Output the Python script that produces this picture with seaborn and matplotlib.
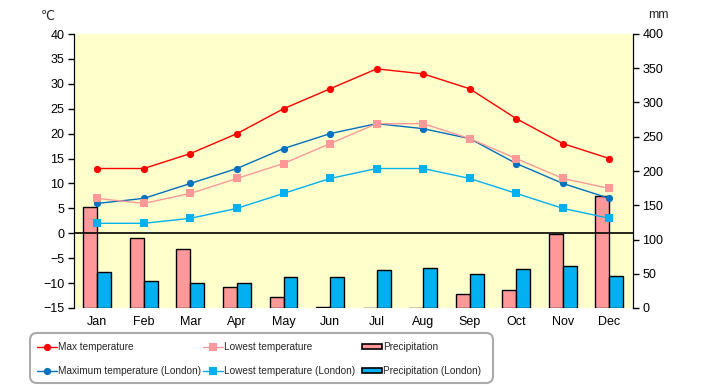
import numpy as np
import pandas as pd
import matplotlib
matplotlib.use("Agg")
import matplotlib.pyplot as plt
from matplotlib.patches import Patch, FancyBboxPatch
import seaborn as sns

months = ["Jan", "Feb", "Mar", "Apr", "May", "Jun", "Jul", "Aug", "Sep", "Oct", "Nov", "Dec"]
max_temp = [13, 13, 16, 20, 25, 29, 33, 32, 29, 23, 18, 15]
low_temp = [7, 6, 8, 11, 14, 18, 22, 22, 19, 15, 11, 9]
max_temp_london = [6, 7, 10, 13, 17, 20, 22, 21, 19, 14, 10, 7]
low_temp_london = [2, 2, 3, 5, 8, 11, 13, 13, 11, 8, 5, 3]
precip = [148, 102, 86, 30, 16, 2, 0, 0, 21, 27, 108, 163]
precip_london = [52, 39, 36, 37, 45, 45, 55, 58, 49, 57, 62, 46]

sns.set_style("white")
plt.rcParams["font.family"] = ["Liberation Sans", "DejaVu Sans"]

fig = plt.figure(figsize=(7.2, 3.85), dpi=100)
ax = fig.add_axes([74 / 720, 1 - 308 / 385, 558.7 / 720, 274 / 385])
ax.set_facecolor("#FFFFCC")

# precipitation bars on the base axes (right hand scale)
rain = pd.DataFrame({
    "month": months * 2,
    "mm": precip + precip_london,
    "series": ["Precipitation"] * 12 + ["Precipitation (London)"] * 12,
})
sns.barplot(data=rain, x="month", y="mm", hue="series", order=months,
            palette=["#FF9999", "#00B0F0"], width=0.6, edgecolor="black",
            linewidth=1, ax=ax, legend=False, saturation=1)
ax.set_ylim(0, 400)
ax.set_yticks(np.arange(0, 401, 50))
ax.set_xlim(-0.5, 11.5)
ax.set_xlabel("")
ax.set_ylabel("")

# temperatures on the twin axes (left hand scale)
ax2 = ax.twinx()
temps = pd.DataFrame({"month": months, "max": max_temp, "low": low_temp,
                      "lmax": max_temp_london, "llow": low_temp_london})
styles = [
    ("max", "Max temperature", "#FF0000", "o"),
    ("lmax", "Maximum temperature (London)", "#0070C0", "o"),
    ("low", "Lowest temperature", "#FF9999", "s"),
    ("llow", "Lowest temperature (London)", "#00B0F0", "s"),
]
for col, name, color, mk in styles:
    sns.lineplot(data=temps, x="month", y=col, color=color, marker=mk,
                 markersize=5.2, markeredgewidth=0, linewidth=1.0,
                 sort=False, label=name, ax=ax2, legend=False)
ax2.set_ylim(-15, 40)
ax2.set_yticks(np.arange(-15, 41, 5))
ax2.axhline(0, color="black", linewidth=1.2)
ax2.set_ylabel("")
ax2.set_xlabel("")

for a in (ax, ax2):
    a.spines["top"].set_visible(False)
    a.spines["bottom"].set_visible(False)
    a.spines["left"].set_color("black")
    a.spines["right"].set_color("black")
    a.tick_params(axis="both", labelsize=9, colors="black", length=4, width=1)
ax.tick_params(axis="x", length=0, pad=6)
ax.tick_params(axis="y", left=False, labelleft=False, right=True, labelright=True,
               direction="out", pad=3)
ax2.tick_params(axis="y", left=True, labelleft=True, right=False, labelright=False,
                direction="out", pad=3)

fig.text(48 / 720, 1 - 16 / 385, "\u2103", fontsize=9, ha="center", va="center",
         family=["DejaVu Sans"])
fig.text(658 / 720, 1 - 15 / 385, "mm", fontsize=9, ha="center", va="center")

# legend: rounded frame plus three two-row columns
frame = FancyBboxPatch((0.30, 0.02), 4.63, 0.50, boxstyle="round,pad=0,rounding_size=0.07",
                       transform=fig.dpi_scale_trans, facecolor="white",
                       edgecolor="#AAAAAA", linewidth=1.5)
fig.patches.append(frame)

h2, l2 = ax2.get_legend_handles_labels()
lookup = dict(zip(l2, h2))
bar_handles = [Patch(facecolor="#FF9999", edgecolor="black", linewidth=1.2),
               Patch(facecolor="#00B0F0", edgecolor="black", linewidth=1.2)]
columns = [
    (37, [lookup["Max temperature"], lookup["Maximum temperature (London)"]],
     ["Max temperature", "Maximum temperature (London)"], 0.7),
    (203, [lookup["Lowest temperature"], lookup["Lowest temperature (London)"]],
     ["Lowest temperature", "Lowest temperature (London)"], 0.7),
    (362, bar_handles, ["Precipitation", "Precipitation (London)"], 0.5),
]
for x0, hs, ls, hh in columns:
    fig.legend(hs, ls, loc="upper left", bbox_to_anchor=(x0 / 720, 1 - 342 / 385),
               fontsize=7.2, frameon=False, handlelength=1.95, handletextpad=0.15,
               labelspacing=1.4, borderpad=0, borderaxespad=0, markerscale=1,
               handleheight=hh)

fig.savefig("out.png", dpi=100)
